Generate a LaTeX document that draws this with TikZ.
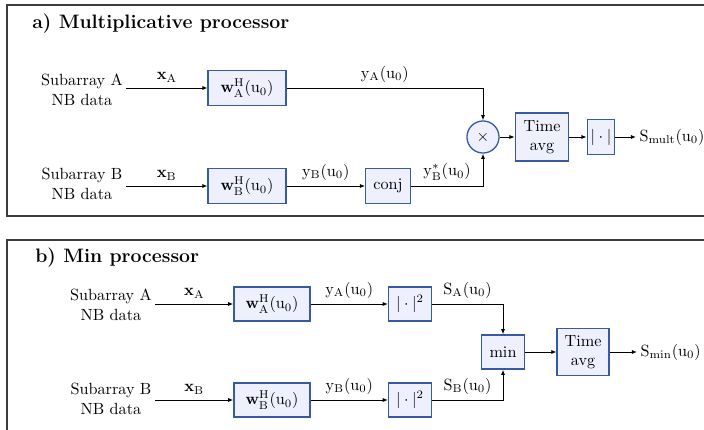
\documentclass[tikz,border=0pt]{standalone}
\usetikzlibrary{arrows.meta}
\definecolor{boxfill}{RGB}{238,240,253}
\definecolor{boxdraw}{RGB}{55,90,165}
\definecolor{framecol}{RGB}{60,60,60}
\begin{document}
\begin{tikzpicture}[x=0.6173pt,y=-0.6173pt,
  blk/.style={draw=boxdraw,fill=boxfill,line width=0.8pt,inner sep=1pt,align=center},
  txt/.style={align=center,inner sep=2pt},
  conn/.style={line width=0.6pt,-{Latex[length=3.2pt,width=2.6pt]}},
  frm/.style={draw=framecol,line width=0.8pt},
  ttl/.style={anchor=base west,inner sep=0pt,font=\large\bfseries}]
\useasboundingbox (0,0) rectangle (704,429);
\begin{scope}
\clip (0,0) rectangle (704,429);
\draw[frm] (7,5) rectangle (712,216);
\draw[frm] (7,240) rectangle (712,445);
\end{scope}
% ---------- panel a ----------
\node[ttl] (ta) at (32,28) {a) Multiplicative processor};
\node[txt] (sA) at (82,90) {Subarray A\\NB data};
\node[txt] (sB) at (82,184) {Subarray B\\NB data};
\node[blk,minimum width=48pt,minimum height=22pt] (wA) at (247,88) {$\mathbf{w}_\mathrm{A}^\mathrm{H}(\mathrm{u}_0)$};
\node[blk,minimum width=48pt,minimum height=22pt] (wB) at (247,186) {$\mathbf{w}_\mathrm{B}^\mathrm{H}(\mathrm{u}_0)$};
\node[blk,minimum width=27.5pt,minimum height=21.5pt] (cj) at (388,186) {conj};
\node[draw=boxdraw,fill=boxfill,line width=0.8pt,circle,minimum size=19.8pt,inner sep=0pt] (mul) at (483,137) {$\times$};
\node[blk,minimum width=33pt,minimum height=29.5pt] (ta1) at (542,137) {Time\\avg};
\node[blk,minimum width=17pt,minimum height=22pt] (ab) at (601,137) {$|\cdot|$};
\node[txt,anchor=west] (oa) at (636,137) {$\mathrm{S}_\mathrm{mult}(\mathrm{u}_0)$};
\draw[conn] (sA.east |- wA.west) -- node[above] {$\mathbf{x}_\mathrm{A}$} (wA.west);
\draw[conn] (sB.east |- wB.west) -- node[above] {$\mathbf{x}_\mathrm{B}$} (wB.west);
\draw[conn] (wA.east) -| node[pos=0.25,above] {$\mathrm{y}_\mathrm{A}(\mathrm{u}_0)$} (mul.north);
\draw[conn] (wB.east) -- node[above] {$\mathrm{y}_\mathrm{B}(\mathrm{u}_0)$} (cj.west);
\draw[conn] (cj.east) -| node[pos=0.25,above] {$\mathrm{y}_\mathrm{B}^*(\mathrm{u}_0)$} (mul.south);
\draw[conn] (mul.east) -- (ta1.west);
\draw[conn] (ta1.east) -- (ab.west);
\draw[conn] (ab.east) -- (oa.west);
% ---------- panel b ----------
\node[ttl] (tb) at (35,262) {b) Min processor};
\node[txt] (sA2) at (111,305) {Subarray A\\NB data};
\node[txt] (sB2) at (111,399) {Subarray B\\NB data};
\node[blk,minimum width=47pt,minimum height=21pt] (wA2) at (272,304) {$\mathbf{w}_\mathrm{A}^\mathrm{H}(\mathrm{u}_0)$};
\node[blk,minimum width=47pt,minimum height=21pt] (wB2) at (272,400) {$\mathbf{w}_\mathrm{B}^\mathrm{H}(\mathrm{u}_0)$};
\node[blk,minimum width=26.5pt,minimum height=21pt] (qA) at (410,304) {$|\cdot|^2$};
\node[blk,minimum width=26.5pt,minimum height=21pt] (qB) at (410,400) {$|\cdot|^2$};
\node[blk,minimum width=26.5pt,minimum height=21pt] (mn) at (503,352) {min};
\node[blk,minimum width=32pt,minimum height=29pt] (ta2) at (583,352) {Time\\avg};
\node[txt,anchor=west] (ob) at (637,352) {$\mathrm{S}_\mathrm{min}(\mathrm{u}_0)$};
\draw[conn] (sA2.east |- wA2.west) -- node[above] {$\mathbf{x}_\mathrm{A}$} (wA2.west);
\draw[conn] (sB2.east |- wB2.west) -- node[above] {$\mathbf{x}_\mathrm{B}$} (wB2.west);
\draw[conn] (wA2.east) -- node[above] {$\mathrm{y}_\mathrm{A}(\mathrm{u}_0)$} (qA.west);
\draw[conn] (wB2.east) -- node[above] {$\mathrm{y}_\mathrm{B}(\mathrm{u}_0)$} (qB.west);
\draw[conn] (qA.east) -| node[pos=0.25,above] {$\mathrm{S}_\mathrm{A}(\mathrm{u}_0)$} (mn.north);
\draw[conn] (qB.east) -| node[pos=0.25,above] {$\mathrm{S}_\mathrm{B}(\mathrm{u}_0)$} (mn.south);
\draw[conn] (mn.east) -- (ta2.west);
\draw[conn] (ta2.east) -- (ob.west);
\end{tikzpicture}
\end{document}
